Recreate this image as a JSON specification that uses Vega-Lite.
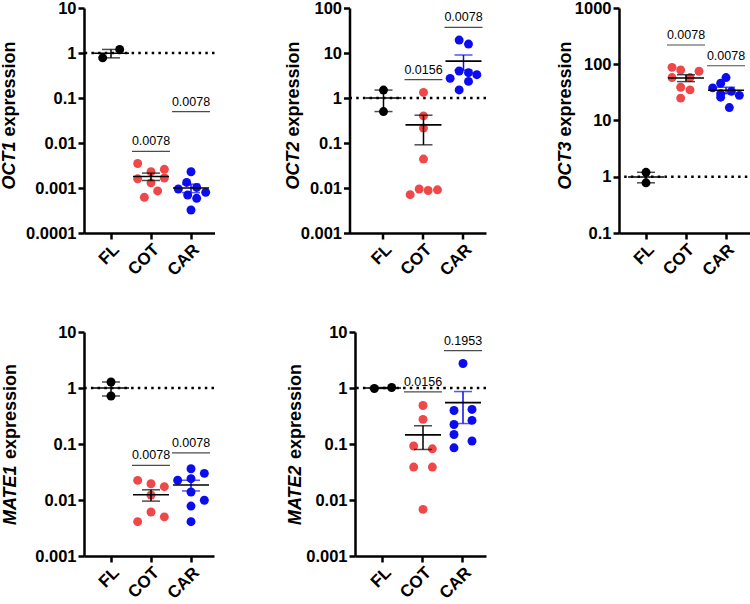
{
  "$schema": "https://vega.github.io/schema/vega-lite/v6.json",
  "background": "white",
  "padding": {"left": 0, "top": 0, "right": 0, "bottom": 0},
  "config": {
    "view": {"stroke": null},
    "font": "Liberation Sans",
    "axis": {
      "domainColor": "black", "domainWidth": 2.5, "tickColor": "black", "tickWidth": 2.5, "tickSize": 6,
      "labelColor": "black", "labelFont": "Liberation Sans", "labelFontWeight": "bold",
      "titleColor": "black", "titleFont": "Liberation Sans", "titleFontSize": 18, "titleFontWeight": "bold",
      "grid": false, "labelPadding": 2
    },
    "axisY": {"labelFontSize": 16.5},
    "axisX": {"labelAngle": -45, "labelPadding": 2, "labelFontSize": 17},
    "tick": {"color": "black"}
  },
  "datasets": {
    "pts": [
      {"gene": "OCT1", "group": "FL", "value": 0.78, "slot": -1.25},
      {"gene": "OCT1", "group": "FL", "value": 1.2, "slot": 1.3},
      {"gene": "OCT1", "group": "COT", "value": 0.0035, "slot": -2},
      {"gene": "OCT1", "group": "COT", "value": 0.0023, "slot": 0},
      {"gene": "OCT1", "group": "COT", "value": 0.0026, "slot": 2},
      {"gene": "OCT1", "group": "COT", "value": 0.0016, "slot": -2},
      {"gene": "OCT1", "group": "COT", "value": 0.0013, "slot": 0},
      {"gene": "OCT1", "group": "COT", "value": 0.00167, "slot": 2},
      {"gene": "OCT1", "group": "COT", "value": 0.00086, "slot": 1},
      {"gene": "OCT1", "group": "COT", "value": 0.00062, "slot": -1},
      {"gene": "OCT1", "group": "CAR", "value": 0.0023, "slot": 0},
      {"gene": "OCT1", "group": "CAR", "value": 0.00133, "slot": -0.65},
      {"gene": "OCT1", "group": "CAR", "value": 0.00095, "slot": -1.9},
      {"gene": "OCT1", "group": "CAR", "value": 0.00103, "slot": 0.85},
      {"gene": "OCT1", "group": "CAR", "value": 0.0008, "slot": 2.2},
      {"gene": "OCT1", "group": "CAR", "value": 0.0007, "slot": -0.5},
      {"gene": "OCT1", "group": "CAR", "value": 0.00059, "slot": 0.85},
      {"gene": "OCT1", "group": "CAR", "value": 0.000325, "slot": 0},
      {"gene": "OCT2", "group": "FL", "value": 1.5, "slot": 0},
      {"gene": "OCT2", "group": "FL", "value": 0.5, "slot": 0},
      {"gene": "OCT2", "group": "COT", "value": 1.33, "slot": 0},
      {"gene": "OCT2", "group": "COT", "value": 0.4, "slot": 0},
      {"gene": "OCT2", "group": "COT", "value": 0.215, "slot": 0},
      {"gene": "OCT2", "group": "COT", "value": 0.044, "slot": 0},
      {"gene": "OCT2", "group": "COT", "value": 0.0071, "slot": -2},
      {"gene": "OCT2", "group": "COT", "value": 0.0095, "slot": -0.65},
      {"gene": "OCT2", "group": "COT", "value": 0.0088, "slot": 0.7},
      {"gene": "OCT2", "group": "COT", "value": 0.0091, "slot": 2.1},
      {"gene": "OCT2", "group": "CAR", "value": 19.4, "slot": -0.65},
      {"gene": "OCT2", "group": "CAR", "value": 15.8, "slot": 0.75},
      {"gene": "OCT2", "group": "CAR", "value": 3.98, "slot": -0.65},
      {"gene": "OCT2", "group": "CAR", "value": 3.65, "slot": 0.75},
      {"gene": "OCT2", "group": "CAR", "value": 2.73, "slot": -2},
      {"gene": "OCT2", "group": "CAR", "value": 3.3, "slot": 2},
      {"gene": "OCT2", "group": "CAR", "value": 2.34, "slot": 0.75},
      {"gene": "OCT2", "group": "CAR", "value": 1.51, "slot": -0.65},
      {"gene": "OCT3", "group": "FL", "value": 1.2, "slot": 0},
      {"gene": "OCT3", "group": "FL", "value": 0.78, "slot": 0},
      {"gene": "OCT3", "group": "COT", "value": 88, "slot": -2.1},
      {"gene": "OCT3", "group": "COT", "value": 79, "slot": -0.8},
      {"gene": "OCT3", "group": "COT", "value": 75, "slot": 1.95},
      {"gene": "OCT3", "group": "COT", "value": 58, "slot": -2.1},
      {"gene": "OCT3", "group": "COT", "value": 58, "slot": 0.6},
      {"gene": "OCT3", "group": "COT", "value": 39, "slot": -0.8},
      {"gene": "OCT3", "group": "COT", "value": 35, "slot": 0.6},
      {"gene": "OCT3", "group": "COT", "value": 25, "slot": -0.8},
      {"gene": "OCT3", "group": "CAR", "value": 58, "slot": 0},
      {"gene": "OCT3", "group": "CAR", "value": 46, "slot": -0.8},
      {"gene": "OCT3", "group": "CAR", "value": 38, "slot": -2},
      {"gene": "OCT3", "group": "CAR", "value": 33, "slot": 0.8},
      {"gene": "OCT3", "group": "CAR", "value": 30, "slot": -0.8},
      {"gene": "OCT3", "group": "CAR", "value": 28, "slot": 2},
      {"gene": "OCT3", "group": "CAR", "value": 26, "slot": -0.8},
      {"gene": "OCT3", "group": "CAR", "value": 17, "slot": 0.5},
      {"gene": "MATE1", "group": "FL", "value": 1.28, "slot": 0},
      {"gene": "MATE1", "group": "FL", "value": 0.72, "slot": 0},
      {"gene": "MATE1", "group": "COT", "value": 0.0224, "slot": -2},
      {"gene": "MATE1", "group": "COT", "value": 0.0195, "slot": 0},
      {"gene": "MATE1", "group": "COT", "value": 0.0173, "slot": 2},
      {"gene": "MATE1", "group": "COT", "value": 0.0123, "slot": 0},
      {"gene": "MATE1", "group": "COT", "value": 0.0061, "slot": 0},
      {"gene": "MATE1", "group": "COT", "value": 0.0041, "slot": -2},
      {"gene": "MATE1", "group": "COT", "value": 0.005, "slot": 2},
      {"gene": "MATE1", "group": "CAR", "value": 0.0361, "slot": 0},
      {"gene": "MATE1", "group": "CAR", "value": 0.0299, "slot": 2},
      {"gene": "MATE1", "group": "CAR", "value": 0.024, "slot": 0},
      {"gene": "MATE1", "group": "CAR", "value": 0.0225, "slot": -2},
      {"gene": "MATE1", "group": "CAR", "value": 0.0139, "slot": 0},
      {"gene": "MATE1", "group": "CAR", "value": 0.0099, "slot": 2},
      {"gene": "MATE1", "group": "CAR", "value": 0.0078, "slot": 0},
      {"gene": "MATE1", "group": "CAR", "value": 0.0041, "slot": 0},
      {"gene": "MATE2", "group": "FL", "value": 0.98, "slot": -1.3},
      {"gene": "MATE2", "group": "FL", "value": 1.02, "slot": 1.3},
      {"gene": "MATE2", "group": "COT", "value": 0.487, "slot": 0},
      {"gene": "MATE2", "group": "COT", "value": 0.275, "slot": 0},
      {"gene": "MATE2", "group": "COT", "value": 0.092, "slot": -1.4},
      {"gene": "MATE2", "group": "COT", "value": 0.082, "slot": 1.4},
      {"gene": "MATE2", "group": "COT", "value": 0.0387, "slot": -1.4},
      {"gene": "MATE2", "group": "COT", "value": 0.0387, "slot": 1.4},
      {"gene": "MATE2", "group": "COT", "value": 0.0068, "slot": 0},
      {"gene": "MATE2", "group": "CAR", "value": 2.74, "slot": 0},
      {"gene": "MATE2", "group": "CAR", "value": 0.397, "slot": -1.35},
      {"gene": "MATE2", "group": "CAR", "value": 0.414, "slot": 1.35},
      {"gene": "MATE2", "group": "CAR", "value": 0.223, "slot": -1.35},
      {"gene": "MATE2", "group": "CAR", "value": 0.264, "slot": 1.35},
      {"gene": "MATE2", "group": "CAR", "value": 0.148, "slot": -1.35},
      {"gene": "MATE2", "group": "CAR", "value": 0.113, "slot": 1.35},
      {"gene": "MATE2", "group": "CAR", "value": 0.0855, "slot": -1.35}
    ],
    "brk": [
      {"gene": "OCT1", "group": "COT", "y": 0.0065, "p": "0.0078"},
      {"gene": "OCT1", "group": "CAR", "y": 0.05, "p": "0.0078"},
      {"gene": "OCT2", "group": "COT", "y": 2.55, "p": "0.0156"},
      {"gene": "OCT2", "group": "CAR", "y": 37, "p": "0.0078"},
      {"gene": "OCT3", "group": "COT", "y": 220, "p": "0.0078"},
      {"gene": "OCT3", "group": "CAR", "y": 94, "p": "0.0078"},
      {"gene": "MATE1", "group": "COT", "y": 0.0415, "p": "0.0078"},
      {"gene": "MATE1", "group": "CAR", "y": 0.0697, "p": "0.0078"},
      {"gene": "MATE2", "group": "COT", "y": 0.85, "p": "0.0156"},
      {"gene": "MATE2", "group": "CAR", "y": 4.65, "p": "0.1953"}
    ],
    "ref": [{"level": 1}]
  },
  "spacing": 45,
  "vconcat": [
    {
      "spacing": 68.5,
      "hconcat": [
        {
          "width": 130.5, "height": 225,
          "resolve": {"axis": {"y": "independent"}},
          "layer": [
            {"data": {"name": "ref"}, "mark": {"type": "rule", "strokeDash": [2.5, 4.2], "strokeWidth": 2.5, "color": "black"}, "encoding": {"y": {"field": "level", "type": "quantitative", "axis": {"orient": "left", "title": "OCT1", "titleFontStyle": "italic", "titleX": -66, "titleY": 181, "titleAlign": "left", "domain": false, "ticks": false, "labels": false}}}},
            {"data": {"name": "pts"}, "transform": [{"filter": "datum.gene == 'OCT1'"}], "mark": {"type": "circle", "size": 80, "opacity": 1},
             "encoding": {
               "x": {"field": "group", "type": "nominal", "title": null, "scale": {"domain": ["FL", "COT", "CAR"], "paddingInner": 0, "paddingOuter": 0.13125, "align": 0.667}},
               "xOffset": {"field": "slot", "type": "quantitative", "scale": {"domain": [-3, 3]}},
               "y": {"field": "value", "type": "quantitative", "scale": {"type": "log", "domain": [0.0001, 10], "nice": false}, "axis": {"orient": "left", "values": [0.0001, 0.001, 0.01, 0.1, 1, 10], "format": "~g", "title": "expression", "titleX": -66, "titleY": 128, "titleAlign": "left"}},
               "color": {"field": "group", "type": "nominal", "scale": {"domain": ["FL", "COT", "CAR"], "range": ["#000000", "#F04848", "#0C0CF0"]}, "legend": null}
             }},
            {"data": {"name": "pts"}, "transform": [{"filter": "datum.gene == 'OCT1' && datum.group != 'CAR'"}], "mark": {"type": "errorbar", "extent": "stderr", "color": "black", "thickness": 1.5, "ticks": {"size": 18}}, "encoding": {"x": {"field": "group", "type": "nominal", "title": null}, "y": {"field": "value", "type": "quantitative", "axis": null}}},
            {"data": {"name": "pts"}, "transform": [{"filter": "datum.gene == 'OCT1' && datum.group == 'CAR'"}], "mark": {"type": "errorbar", "extent": "stderr", "color": "#0C0CF0", "thickness": 1.5, "ticks": {"size": 18}}, "encoding": {"x": {"field": "group", "type": "nominal", "title": null}, "y": {"field": "value", "type": "quantitative", "axis": null}}},
            {"data": {"name": "pts"}, "transform": [{"filter": "datum.gene == 'OCT1'"}], "mark": {"type": "tick", "size": 36, "thickness": 1.6, "color": "black"}, "encoding": {"x": {"field": "group", "type": "nominal", "title": null}, "y": {"aggregate": "mean", "field": "value", "type": "quantitative", "axis": null}}},
            {"data": {"name": "brk"}, "transform": [{"filter": "datum.gene == 'OCT1'"}], "mark": {"type": "tick", "size": 38, "thickness": 1.2, "color": "black"}, "encoding": {"x": {"field": "group", "type": "nominal", "title": null}, "y": {"field": "y", "type": "quantitative", "axis": null}}},
            {"data": {"name": "brk"}, "transform": [{"filter": "datum.gene == 'OCT1'"}], "mark": {"type": "text", "dy": -6, "baseline": "alphabetic", "fontSize": 12.5, "color": "black", "font": "Liberation Sans"}, "encoding": {"x": {"field": "group", "type": "nominal", "title": null}, "y": {"field": "y", "type": "quantitative", "axis": null}, "text": {"field": "p"}}}
          ]
        },
        {
          "width": 136.5, "height": 225,
          "resolve": {"axis": {"y": "independent"}},
          "layer": [
            {"data": {"name": "ref"}, "mark": {"type": "rule", "strokeDash": [2.5, 4.2], "strokeWidth": 2.5, "color": "black"}, "encoding": {"y": {"field": "level", "type": "quantitative", "axis": {"orient": "left", "title": "OCT2", "titleFontStyle": "italic", "titleX": -47, "titleY": 181, "titleAlign": "left", "domain": false, "ticks": false, "labels": false}}}},
            {"data": {"name": "pts"}, "transform": [{"filter": "datum.gene == 'OCT2'"}], "mark": {"type": "circle", "size": 80, "opacity": 1},
             "encoding": {
               "x": {"field": "group", "type": "nominal", "title": null, "scale": {"domain": ["FL", "COT", "CAR"], "paddingInner": 0, "paddingOuter": 0.20625, "align": 0.848}},
               "xOffset": {"field": "slot", "type": "quantitative", "scale": {"domain": [-3, 3]}},
               "y": {"field": "value", "type": "quantitative", "scale": {"type": "log", "domain": [0.001, 100], "nice": false}, "axis": {"orient": "left", "values": [0.001, 0.01, 0.1, 1, 10, 100], "format": "~g", "title": "expression", "titleX": -47, "titleY": 128, "titleAlign": "left"}},
               "color": {"field": "group", "type": "nominal", "scale": {"domain": ["FL", "COT", "CAR"], "range": ["#000000", "#F04848", "#0C0CF0"]}, "legend": null}
             }},
            {"data": {"name": "pts"}, "transform": [{"filter": "datum.gene == 'OCT2' && datum.group != 'CAR'"}], "mark": {"type": "errorbar", "extent": "stderr", "color": "black", "thickness": 1.5, "ticks": {"size": 18}}, "encoding": {"x": {"field": "group", "type": "nominal", "title": null}, "y": {"field": "value", "type": "quantitative", "axis": null}}},
            {"data": {"name": "pts"}, "transform": [{"filter": "datum.gene == 'OCT2' && datum.group == 'CAR'"}], "mark": {"type": "errorbar", "extent": "stderr", "color": "#0C0CF0", "thickness": 1.5, "ticks": {"size": 18}}, "encoding": {"x": {"field": "group", "type": "nominal", "title": null}, "y": {"field": "value", "type": "quantitative", "axis": null}}},
            {"data": {"name": "pts"}, "transform": [{"filter": "datum.gene == 'OCT2'"}], "mark": {"type": "tick", "size": 36, "thickness": 1.6, "color": "black"}, "encoding": {"x": {"field": "group", "type": "nominal", "title": null}, "y": {"aggregate": "mean", "field": "value", "type": "quantitative", "axis": null}}},
            {"data": {"name": "brk"}, "transform": [{"filter": "datum.gene == 'OCT2'"}], "mark": {"type": "tick", "size": 38, "thickness": 1.2, "color": "black"}, "encoding": {"x": {"field": "group", "type": "nominal", "title": null}, "y": {"field": "y", "type": "quantitative", "axis": null}}},
            {"data": {"name": "brk"}, "transform": [{"filter": "datum.gene == 'OCT2'"}], "mark": {"type": "text", "dy": -6, "baseline": "alphabetic", "fontSize": 12.5, "color": "black", "font": "Liberation Sans"}, "encoding": {"x": {"field": "group", "type": "nominal", "title": null}, "y": {"field": "y", "type": "quantitative", "axis": null}, "text": {"field": "p"}}}
          ]
        },
        {
          "width": 135, "height": 225,
          "resolve": {"axis": {"y": "independent"}},
          "layer": [
            {"data": {"name": "ref"}, "mark": {"type": "rule", "strokeDash": [2.5, 4.2], "strokeWidth": 2.5, "color": "black"}, "encoding": {"y": {"field": "level", "type": "quantitative", "axis": {"orient": "left", "title": "OCT3", "titleFontStyle": "italic", "titleX": -45, "titleY": 181, "titleAlign": "left", "domain": false, "ticks": false, "labels": false}}}},
            {"data": {"name": "pts"}, "transform": [{"filter": "datum.gene == 'OCT3'"}], "mark": {"type": "circle", "size": 80, "opacity": 1},
             "encoding": {
               "x": {"field": "group", "type": "nominal", "title": null, "scale": {"domain": ["FL", "COT", "CAR"], "paddingInner": 0, "paddingOuter": 0.1875, "align": 0.467}},
               "xOffset": {"field": "slot", "type": "quantitative", "scale": {"domain": [-3, 3]}},
               "y": {"field": "value", "type": "quantitative", "scale": {"type": "log", "domain": [0.1, 1000], "nice": false}, "axis": {"orient": "left", "values": [0.1, 1, 10, 100, 1000], "format": "~g", "title": "expression", "titleX": -45, "titleY": 128, "titleAlign": "left"}},
               "color": {"field": "group", "type": "nominal", "scale": {"domain": ["FL", "COT", "CAR"], "range": ["#000000", "#F04848", "#0C0CF0"]}, "legend": null}
             }},
            {"data": {"name": "pts"}, "transform": [{"filter": "datum.gene == 'OCT3' && datum.group != 'CAR'"}], "mark": {"type": "errorbar", "extent": "stderr", "color": "black", "thickness": 1.5, "ticks": {"size": 18}}, "encoding": {"x": {"field": "group", "type": "nominal", "title": null}, "y": {"field": "value", "type": "quantitative", "axis": null}}},
            {"data": {"name": "pts"}, "transform": [{"filter": "datum.gene == 'OCT3' && datum.group == 'CAR'"}], "mark": {"type": "errorbar", "extent": "stderr", "color": "#0C0CF0", "thickness": 1.5, "ticks": {"size": 18}}, "encoding": {"x": {"field": "group", "type": "nominal", "title": null}, "y": {"field": "value", "type": "quantitative", "axis": null}}},
            {"data": {"name": "pts"}, "transform": [{"filter": "datum.gene == 'OCT3'"}], "mark": {"type": "tick", "size": 36, "thickness": 1.6, "color": "black"}, "encoding": {"x": {"field": "group", "type": "nominal", "title": null}, "y": {"aggregate": "mean", "field": "value", "type": "quantitative", "axis": null}}},
            {"data": {"name": "brk"}, "transform": [{"filter": "datum.gene == 'OCT3'"}], "mark": {"type": "tick", "size": 38, "thickness": 1.2, "color": "black"}, "encoding": {"x": {"field": "group", "type": "nominal", "title": null}, "y": {"field": "y", "type": "quantitative", "axis": null}}},
            {"data": {"name": "brk"}, "transform": [{"filter": "datum.gene == 'OCT3'"}], "mark": {"type": "text", "dy": -6, "baseline": "alphabetic", "fontSize": 12.5, "color": "black", "font": "Liberation Sans"}, "encoding": {"x": {"field": "group", "type": "nominal", "title": null}, "y": {"field": "y", "type": "quantitative", "axis": null}, "text": {"field": "p"}}}
          ]
        }
      ]
    },
    {
      "spacing": 70,
      "hconcat": [
        {
          "width": 130, "height": 224,
          "resolve": {"axis": {"y": "independent"}},
          "layer": [
            {"data": {"name": "ref"}, "mark": {"type": "rule", "strokeDash": [2.5, 4.2], "strokeWidth": 2.5, "color": "black"}, "encoding": {"y": {"field": "level", "type": "quantitative", "axis": {"orient": "left", "title": "MATE1", "titleFontStyle": "italic", "titleX": -65, "titleY": 192.6, "titleAlign": "left", "domain": false, "ticks": false, "labels": false}}}},
            {"data": {"name": "pts"}, "transform": [{"filter": "datum.gene == 'MATE1'"}], "mark": {"type": "circle", "size": 80, "opacity": 1},
             "encoding": {
               "x": {"field": "group", "type": "nominal", "title": null, "scale": {"domain": ["FL", "COT", "CAR"], "paddingInner": 0, "paddingOuter": 0.125, "align": 0.7}},
               "xOffset": {"field": "slot", "type": "quantitative", "scale": {"domain": [-3, 3]}},
               "y": {"field": "value", "type": "quantitative", "scale": {"type": "log", "domain": [0.001, 10], "nice": false}, "axis": {"orient": "left", "values": [0.001, 0.01, 0.1, 1, 10], "format": "~g", "title": "expression", "titleX": -65, "titleY": 126.6, "titleAlign": "left"}},
               "color": {"field": "group", "type": "nominal", "scale": {"domain": ["FL", "COT", "CAR"], "range": ["#000000", "#F04848", "#0C0CF0"]}, "legend": null}
             }},
            {"data": {"name": "pts"}, "transform": [{"filter": "datum.gene == 'MATE1' && datum.group != 'CAR'"}], "mark": {"type": "errorbar", "extent": "stderr", "color": "black", "thickness": 1.5, "ticks": {"size": 18}}, "encoding": {"x": {"field": "group", "type": "nominal", "title": null}, "y": {"field": "value", "type": "quantitative", "axis": null}}},
            {"data": {"name": "pts"}, "transform": [{"filter": "datum.gene == 'MATE1' && datum.group == 'CAR'"}], "mark": {"type": "errorbar", "extent": "stderr", "color": "#0C0CF0", "thickness": 1.5, "ticks": {"size": 18}}, "encoding": {"x": {"field": "group", "type": "nominal", "title": null}, "y": {"field": "value", "type": "quantitative", "axis": null}}},
            {"data": {"name": "pts"}, "transform": [{"filter": "datum.gene == 'MATE1'"}], "mark": {"type": "tick", "size": 36, "thickness": 1.6, "color": "black"}, "encoding": {"x": {"field": "group", "type": "nominal", "title": null}, "y": {"aggregate": "mean", "field": "value", "type": "quantitative", "axis": null}}},
            {"data": {"name": "brk"}, "transform": [{"filter": "datum.gene == 'MATE1'"}], "mark": {"type": "tick", "size": 38, "thickness": 1.2, "color": "black"}, "encoding": {"x": {"field": "group", "type": "nominal", "title": null}, "y": {"field": "y", "type": "quantitative", "axis": null}}},
            {"data": {"name": "brk"}, "transform": [{"filter": "datum.gene == 'MATE1'"}], "mark": {"type": "text", "dy": -6, "baseline": "alphabetic", "fontSize": 12.5, "color": "black", "font": "Liberation Sans"}, "encoding": {"x": {"field": "group", "type": "nominal", "title": null}, "y": {"field": "y", "type": "quantitative", "axis": null}, "text": {"field": "p"}}}
          ]
        },
        {
          "width": 131, "height": 224,
          "resolve": {"axis": {"y": "independent"}},
          "layer": [
            {"data": {"name": "ref"}, "mark": {"type": "rule", "strokeDash": [2.5, 4.2], "strokeWidth": 2.5, "color": "black"}, "encoding": {"y": {"field": "level", "type": "quantitative", "axis": {"orient": "left", "title": "MATE2", "titleFontStyle": "italic", "titleX": -51, "titleY": 192.6, "titleAlign": "left", "domain": false, "ticks": false, "labels": false}}}},
            {"data": {"name": "pts"}, "transform": [{"filter": "datum.gene == 'MATE2'"}], "mark": {"type": "circle", "size": 80, "opacity": 1},
             "encoding": {
               "x": {"field": "group", "type": "nominal", "title": null, "scale": {"domain": ["FL", "COT", "CAR"], "paddingInner": 0, "paddingOuter": 0.1375, "align": 0.727}},
               "xOffset": {"field": "slot", "type": "quantitative", "scale": {"domain": [-3, 3]}},
               "y": {"field": "value", "type": "quantitative", "scale": {"type": "log", "domain": [0.001, 10], "nice": false}, "axis": {"orient": "left", "values": [0.001, 0.01, 0.1, 1, 10], "format": "~g", "title": "expression", "titleX": -51, "titleY": 126.6, "titleAlign": "left"}},
               "color": {"field": "group", "type": "nominal", "scale": {"domain": ["FL", "COT", "CAR"], "range": ["#000000", "#F04848", "#0C0CF0"]}, "legend": null}
             }},
            {"data": {"name": "pts"}, "transform": [{"filter": "datum.gene == 'MATE2' && datum.group != 'CAR'"}], "mark": {"type": "errorbar", "extent": "stderr", "color": "black", "thickness": 1.5, "ticks": {"size": 18}}, "encoding": {"x": {"field": "group", "type": "nominal", "title": null}, "y": {"field": "value", "type": "quantitative", "axis": null}}},
            {"data": {"name": "pts"}, "transform": [{"filter": "datum.gene == 'MATE2' && datum.group == 'CAR'"}], "mark": {"type": "errorbar", "extent": "stderr", "color": "#0C0CF0", "thickness": 1.5, "ticks": {"size": 18}}, "encoding": {"x": {"field": "group", "type": "nominal", "title": null}, "y": {"field": "value", "type": "quantitative", "axis": null}}},
            {"data": {"name": "pts"}, "transform": [{"filter": "datum.gene == 'MATE2'"}], "mark": {"type": "tick", "size": 36, "thickness": 1.6, "color": "black"}, "encoding": {"x": {"field": "group", "type": "nominal", "title": null}, "y": {"aggregate": "mean", "field": "value", "type": "quantitative", "axis": null}}},
            {"data": {"name": "brk"}, "transform": [{"filter": "datum.gene == 'MATE2'"}], "mark": {"type": "tick", "size": 38, "thickness": 1.2, "color": "black"}, "encoding": {"x": {"field": "group", "type": "nominal", "title": null}, "y": {"field": "y", "type": "quantitative", "axis": null}}},
            {"data": {"name": "brk"}, "transform": [{"filter": "datum.gene == 'MATE2'"}], "mark": {"type": "text", "dy": -6, "baseline": "alphabetic", "fontSize": 12.5, "color": "black", "font": "Liberation Sans"}, "encoding": {"x": {"field": "group", "type": "nominal", "title": null}, "y": {"field": "y", "type": "quantitative", "axis": null}, "text": {"field": "p"}}}
          ]
        }
      ]
    }
  ]
}
